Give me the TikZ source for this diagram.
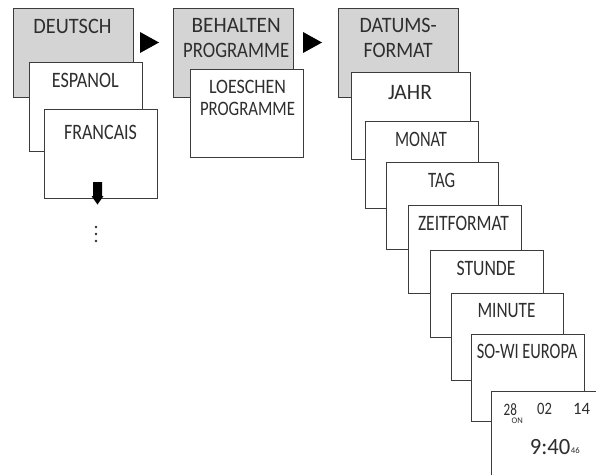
\documentclass[tikz,border=0pt]{standalone}
\usepackage{fontspec}
\usepackage{graphicx}
\setmainfont{Carlito}
\newcommand\fitw[2]{\resizebox{#1pt}{\height}{#2}}
\definecolor{linec}{HTML}{3C3C3C}
\definecolor{cardgray}{HTML}{D4D4D4}
\definecolor{textc}{HTML}{2E2E2E}
\begin{document}
\begin{tikzpicture}[x=1pt,y=-1pt,
  card/.style={draw=linec, line width=1pt, fill=white, anchor=north west, inner sep=0pt, outer sep=0pt},
  graycard/.style={card, fill=cardgray},
  lbl/.style={anchor=north, inner sep=0pt, align=center, text=textc, font=\fontsize{22}{25}\selectfont},
  lbltight/.style={lbl, font=\fontsize{20.5}{22}\selectfont},
  tip/.style={fill=black},
  dispnum/.style={anchor=north west, inner sep=0pt, text=textc, font=\fontsize{17.4}{17.4}\selectfont}
]
\useasboundingbox (0,0) rectangle (596,474);
\fill[white] (0,0) rectangle (596,474);

% column 1
\node[graycard, minimum width=120pt, minimum height=89pt] (de) at (13,8) {};
\node[lbl] (de-t) at (72.5,19) {\fitw{78}{DEUTSCH}};
\node[card, minimum width=113pt, minimum height=89pt] (es) at (29,62) {};
\node[lbl] (es-t) at (85.3,73) {\fitw{67}{ESPANOL}};
\node[card, minimum width=113pt, minimum height=89pt] (fr) at (44,109) {};
\node[lbl] (fr-t) at (100.5,125) {\fitw{73}{FRANCAIS}};
\fill[tip] (93,182) -- (102,182) -- (102,196) -- (103.5,196) -- (97.5,204.5) -- (91.5,196) -- (93,196) -- cycle;
\fill[textc] (96,227) circle (1.4) (96,234) circle (1.4) (96,241) circle (1.4);

\fill[tip] (140,32) -- (159,42.5) -- (140,53) -- cycle;

% column 2
\node[graycard, minimum width=120pt, minimum height=89pt] (be) at (173,8) {};
\node[lbl] (be-t) at (236.2,18) {\fitw{89}{BEHALTEN}\\\fitw{106}{PROGRAMME}};
\node[card, minimum width=113pt, minimum height=88pt] (lo) at (190,69) {};
\node[lbltight] (lo-t) at (247.5,80) {\fitw{77}{LOESCHEN}\\\fitw{95}{PROGRAMME}};

\fill[tip] (303,32) -- (322,42.5) -- (303,53) -- cycle;

% column 3
\node[graycard, minimum width=120pt, minimum height=89pt] (da) at (338,8) {};
\node[lbl] (da-t) at (398.2,18) {\fitw{77}{DATUMS-}\\\fitw{69}{FORMAT}};
\node[card, minimum width=119pt, minimum height=87pt] (ja) at (351,72) {};
\node[lbl] (ja-t) at (410,85) {\fitw{44}{JAHR}};
\node[card, minimum width=113pt, minimum height=87pt] (mo) at (365,121) {};
\node[lbl] (mo-t) at (421,132) {\fitw{52}{MONAT}};
\node[card, minimum width=112pt, minimum height=87pt] (ta) at (386,162) {};
\node[lbl] (ta-t) at (441.7,173) {\fitw{27}{TAG}};
\node[card, minimum width=113pt, minimum height=88pt] (ze) at (408,205) {};
\node[lbl] (ze-t) at (463.5,216) {\fitw{91}{ZEITFORMAT}};
\node[card, minimum width=113pt, minimum height=87pt] (stu) at (430,250) {};
\node[lbl] (stu-t) at (486,261.5) {\fitw{59}{STUNDE}};
\node[card, minimum width=112pt, minimum height=87pt] (mi) at (451,293) {};
\node[lbl] (mi-t) at (506.5,303.3) {\fitw{58}{MINUTE}};
\node[card, minimum width=113pt, minimum height=87pt] (so) at (471,334) {};
\node[lbl] (so-t) at (527,344) {\fitw{100.5}{SO-WI EUROPA}};
\node[card, minimum width=130pt, minimum height=100pt] (ck) at (491,391) {};
\node[dispnum] (ck-d) at (503.5,403.3) {\fitw{13.3}{28}};
\node[dispnum] (ck-m) at (537,403.3) {\fitw{14.8}{02}};
\node[dispnum] (ck-y) at (573,403.3) {\fitw{17}{14}};
\node[dispnum, font=\fontsize{8.6}{8.6}\selectfont] (ck-on) at (511.5,418.2) {\fitw{11.2}{ON}};
\node[dispnum, font=\fontsize{23.3}{23.3}\selectfont] (ck-t) at (529.7,439.3) {\fitw{40.5}{9:40}};
\node[dispnum, font=\fontsize{8.8}{8.8}\selectfont] (ck-s) at (570.7,447.7) {\fitw{8.8}{46}};
\end{tikzpicture}
\end{document}
